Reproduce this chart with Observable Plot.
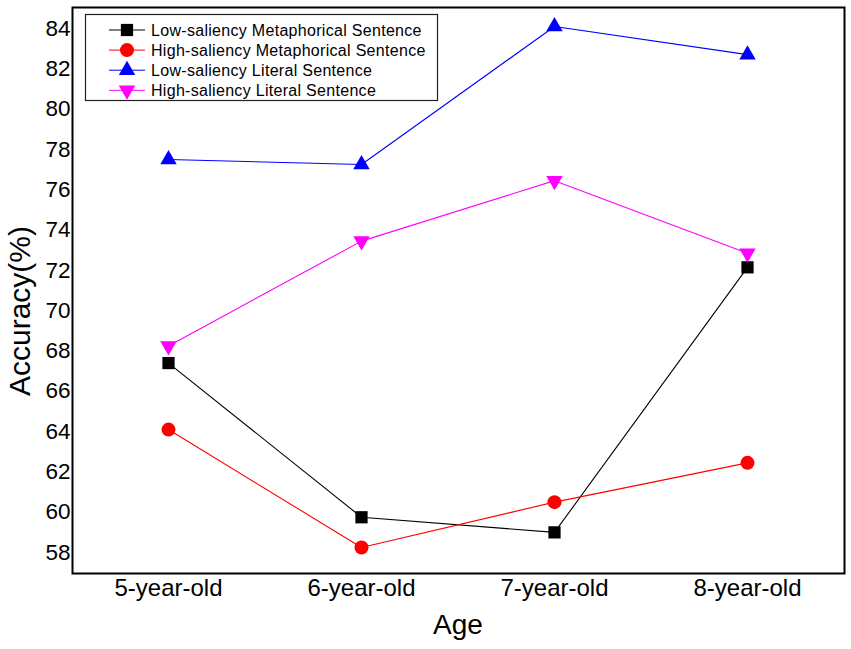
<!DOCTYPE html>
<html>
<head>
<meta charset="utf-8">
<script src="https://cdn.jsdelivr.net/npm/d3@7"></script>
<script src="https://cdn.jsdelivr.net/npm/@observablehq/plot@0.6"></script>
<style>
  html, body { margin: 0; padding: 0; background: #fff; }
  #chart { position: relative; width: 851px; height: 649px; }
</style>
</head>
<body>
<div id="chart"></div>
<script>
// ---- data ----
const ages = ["5-year-old", "6-year-old", "7-year-old", "8-year-old"];
const lowMetaphorical = [67.4, 59.75, 59.0, 72.15];
const highMetaphorical = [64.1, 58.25, 60.5, 62.45];
const lowLiteral = [77.5, 77.25, 84.1, 82.7];
const highLiteral = [68.25, 73.45, 76.45, 72.85];
const seriesNames = [
  "Low-saliency Metaphorical Sentence",
  "High-saliency Metaphorical Sentence",
  "Low-saliency Literal Sentence",
  "High-saliency Literal Sentence"
];
const yTicks = [58, 60, 62, 64, 66, 68, 70, 72, 74, 76, 78, 80, 82, 84];
const xTitle = "Age";
const yTitle = "Accuracy(%)";

// ---- styles ----
const seriesValues = [lowMetaphorical, highMetaphorical, lowLiteral, highLiteral];
const colors = ["#000000", "#ff0000", "#0000ff", "#ff00ff"];
const triangleDown = {
  draw(ctx, size) {
    const y = -Math.sqrt(size / (Math.sqrt(3) * 3));
    ctx.moveTo(0, -2 * y);
    ctx.lineTo(-Math.sqrt(3) * y, y);
    ctx.lineTo(Math.sqrt(3) * y, y);
    ctx.closePath();
  }
};
const symbols = ["square", "circle", "triangle", triangleDown];
const radii = [6.9, 7, 6.1, 6.1];
const FONT = "'Liberation Sans', Arial, sans-serif";

const rows = [];
seriesNames.forEach((name, i) => {
  ages.forEach((age, j) => rows.push({ series: name, idx: i, age, value: seriesValues[i][j] }));
});

const marks = [];
seriesNames.forEach((name, i) => {
  const d = rows.filter(r => r.idx === i);
  marks.push(Plot.line(d, { x: "age", y: "value", stroke: colors[i], strokeWidth: 1.1 }));
});
seriesNames.forEach((name, i) => {
  const d = rows.filter(r => r.idx === i);
  marks.push(Plot.dot(d, { x: "age", y: "value", symbol: () => symbols[i], fill: colors[i], stroke: "none", r: radii[i] }));
});

const chart = Plot.plot({
  width: 851,
  height: 649,
  marginLeft: 72,
  marginRight: 7,
  marginTop: 7,
  marginBottom: 76,
  style: { fontFamily: FONT, background: "#fff", color: "#000" },
  x: { type: "point", domain: ages, range: [168, 747], padding: 0 },
  y: { domain: [56.96, 85.04] },
  symbol: { type: "identity" },
  marks: [
    Plot.axisX({ tickSize: 0, tickPadding: 5, fontSize: 24, label: null }),
    Plot.axisY({ ticks: yTicks, tickSize: 0, tickPadding: 2, fontSize: 22.5, label: null }),
    ...marks,
    Plot.frame({ stroke: "#000", strokeWidth: 2 })
  ]
});
document.getElementById("chart").appendChild(chart);

const svg = d3.select(chart.tagName.toLowerCase() === "svg" ? chart : chart.querySelector("svg"));

// ---- axis titles ----
svg.append("text")
  .attr("x", 458).attr("y", 634)
  .attr("text-anchor", "middle").attr("font-family", FONT).attr("font-size", 28)
  .attr("fill", "#000").text(xTitle);
svg.append("text")
  .attr("transform", "translate(30,311) rotate(-90)")
  .attr("text-anchor", "middle").attr("font-family", FONT).attr("font-size", 30)
  .attr("fill", "#000").text(yTitle);

// ---- legend (inside the plot frame, top-left) ----
const lg = svg.append("g").attr("font-family", FONT).attr("text-anchor", "start");
lg.append("rect")
  .attr("x", 85.5).attr("y", 14.5).attr("width", 352).attr("height", 86)
  .attr("fill", "#fff").attr("stroke", "#222").attr("stroke-width", 1.2);
seriesNames.forEach((name, i) => {
  const cy = 30 + i * 20.1;
  lg.append("line").attr("x1", 109).attr("x2", 145).attr("y1", cy).attr("y2", cy)
    .attr("stroke", colors[i]).attr("stroke-width", 1);
  const sym = typeof symbols[i] === "string"
    ? { square: d3.symbolSquare, circle: d3.symbolCircle, triangle: d3.symbolTriangle }[symbols[i]]
    : symbols[i];
  lg.append("path")
    .attr("d", d3.symbol(sym, Math.PI * radii[i] * radii[i])())
    .attr("transform", `translate(127,${cy})`)
    .attr("fill", colors[i]);
  lg.append("text").attr("x", 151).attr("y", cy).attr("dy", "0.35em")
    .attr("text-anchor", "start").attr("letter-spacing", 0.3)
    .attr("font-size", 16).attr("fill", "#000").text(name);
});
</script>
</body>
</html>
